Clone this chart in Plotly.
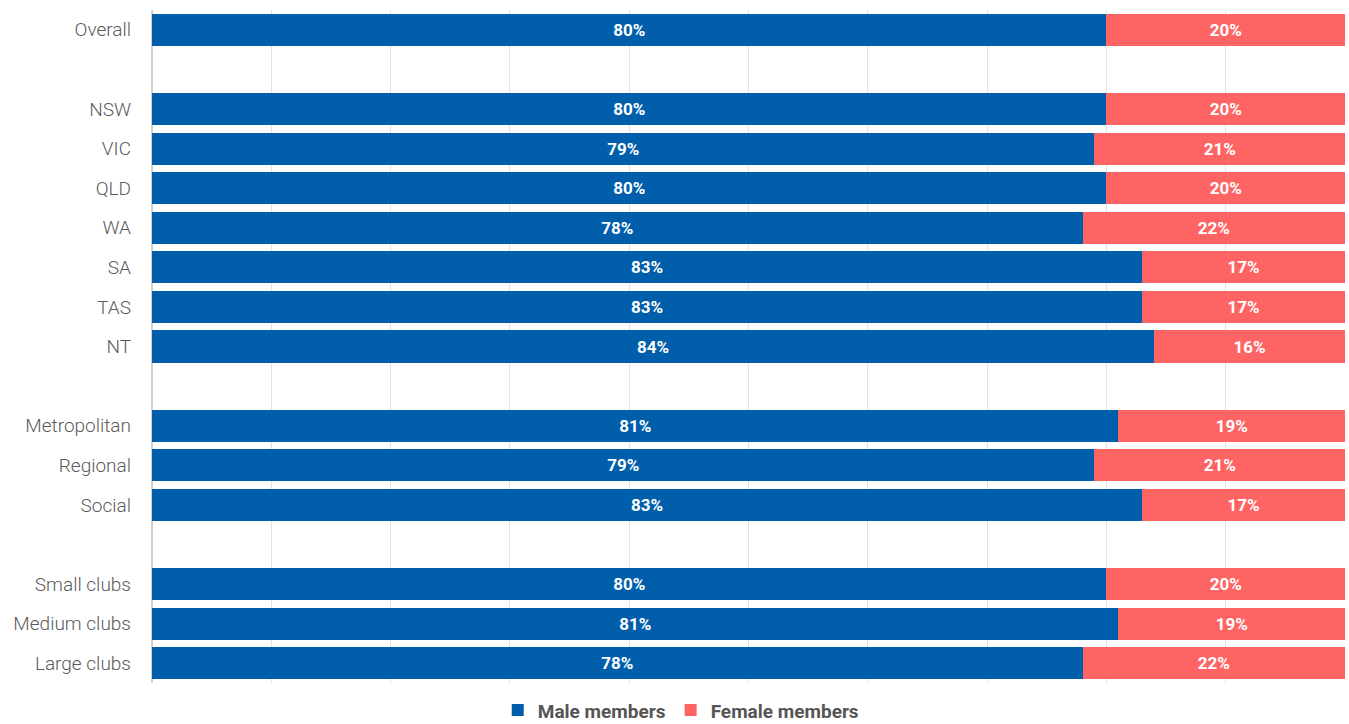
import plotly.graph_objects as go

categories = ["Overall", " ", "NSW", "VIC", "QLD", "WA", "SA", "TAS", "NT", "  ",
              "Metropolitan", "Regional", "Social", "   ",
              "Small clubs", "Medium clubs", "Large clubs"]
male = [80, None, 80, 79, 80, 78, 83, 83, 84, None, 81, 79, 83, None, 80, 81, 78]
female = [20, None, 20, 21, 20, 22, 17, 17, 16, None, 19, 21, 17, None, 20, 19, 22]

def labels(vals):
    return ["" if v is None else f"{v}%" for v in vals]

fig = go.Figure()
fig.add_trace(go.Bar(
    y=categories, x=male, orientation="h", name="Male members",
    marker=dict(color="#005EAB", line=dict(width=0)),
    text=labels(male), textposition="inside", insidetextanchor="middle",
    textfont=dict(color="white", size=17, family="Roboto", weight="bold"),
    hoverinfo="skip",
))
fig.add_trace(go.Bar(
    y=categories, x=female, orientation="h", name="Female members",
    marker=dict(color="#FF6464", line=dict(width=0)),
    text=labels(female), textposition="inside", insidetextanchor="middle",
    textfont=dict(color="white", size=17, family="Roboto", weight="bold"),
    hoverinfo="skip",
))

fig.update_layout(
    barmode="stack",
    bargap=0.19,
    width=1349, height=724,
    margin=dict(l=152, r=4, t=10, b=41, autoexpand=False),
    plot_bgcolor="white", paper_bgcolor="white",
    font=dict(family="Roboto", color="#555555"),
    showlegend=True,
    legend=dict(
        orientation="h", xref="container", yref="container",
        x=0.505, xanchor="center", y=0.019, yanchor="middle",
        font=dict(size=19, color="#555555", family="Roboto", weight="bold"),
        itemwidth=30, traceorder="normal",
    ),
    uniformtext=dict(mode="show", minsize=10),
)
fig.update_xaxes(
    range=[0, 100], dtick=10, showticklabels=False,
    showgrid=True, gridcolor="#E2E2E2", gridwidth=1,
    zeroline=True, zerolinecolor="#D0D0D0", zerolinewidth=2,
    fixedrange=True,
)
fig.update_yaxes(
    categoryorder="array", categoryarray=categories,
    autorange="reversed", showgrid=False,
    tickfont=dict(size=19, color="#5A5A5A", family="Roboto", weight=300),
    ticks="", ticklabelstandoff=20, fixedrange=True,
)

fig.write_html(
    "out.html",
    config={"displayModeBar": False},
    post_script="document.body.style.margin='0';document.body.style.overflow='hidden';",
)
